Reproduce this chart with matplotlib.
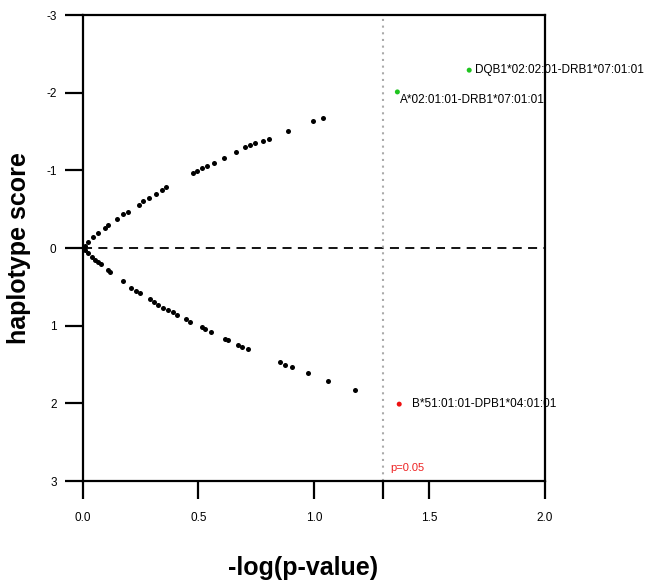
import matplotlib.pyplot as plt

plt.rcParams['font.family'] = ['Liberation Sans', 'DejaVu Sans']

# haplotypes with positive score (upper branch, negative y on the inverted axis)
up_x = [0.01, 0.023, 0.045, 0.066, 0.095, 0.110, 0.149, 0.175, 0.193, 0.242,
        0.261, 0.287, 0.315, 0.340, 0.359, 0.475, 0.492, 0.514, 0.535, 0.566,
        0.612, 0.661, 0.701, 0.723, 0.745, 0.781, 0.805, 0.889, 0.994, 1.040]
up_y = [-0.03, -0.08, -0.14, -0.19, -0.26, -0.29, -0.37, -0.44, -0.47, -0.56,
        -0.60, -0.64, -0.70, -0.75, -0.78, -0.96, -0.99, -1.03, -1.06, -1.09,
        -1.16, -1.23, -1.30, -1.32, -1.35, -1.38, -1.41, -1.51, -1.63, -1.68]

# lower branch
low_x = [0.01, 0.023, 0.037, 0.052, 0.066, 0.078, 0.110, 0.117, 0.175, 0.206,
         0.229, 0.247, 0.290, 0.309, 0.326, 0.348, 0.369, 0.391, 0.408, 0.446,
         0.463, 0.514, 0.528, 0.554, 0.615, 0.626, 0.672, 0.687, 0.713, 0.853,
         0.874, 0.903, 0.973, 1.062, 1.177]
low_y = [0.03, 0.07, 0.11, 0.15, 0.18, 0.21, 0.28, 0.31, 0.43, 0.51,
         0.55, 0.58, 0.66, 0.70, 0.73, 0.77, 0.80, 0.83, 0.86, 0.92,
         0.95, 1.02, 1.04, 1.08, 1.17, 1.18, 1.25, 1.27, 1.30, 1.47,
         1.50, 1.53, 1.61, 1.71, 1.83]

# significant haplotypes
sig_names = ['DQB1*02:02:01-DRB1*07:01:01', 'A*02:01:01-DRB1*07:01:01',
             'B*51:01:01-DPB1*04:01:01']
sig_x = [1.672, 1.361, 1.369]
sig_y = [-2.29, -2.01, 2.01]
sig_colors = ['#1fc41f', '#1fc41f', '#ee1111']

p_cut = 1.3

fig = plt.figure(figsize=(6.47, 5.82), dpi=100)
ax = fig.add_axes([0.1283, 0.1735, 0.714, 0.8007])

ax.scatter(up_x, up_y, s=13, color='black', zorder=3, linewidths=0)
ax.scatter(low_x, low_y, s=13, color='black', zorder=3, linewidths=0)
ax.scatter(sig_x, sig_y, s=13, color=sig_colors, zorder=3, linewidths=0)

ax.text(sig_x[0] + 0.025, sig_y[0], sig_names[0], fontsize=8.5, va='center', ha='left')
ax.text(sig_x[1] + 0.01, sig_y[1] + 0.1, sig_names[1], fontsize=8.5, va='center', ha='left')
ax.text(sig_x[2] + 0.055, sig_y[2], sig_names[2], fontsize=8.5, va='center', ha='left')

ax.axhline(0, color='black', lw=1.3, ls=(0, (5, 3.5)), zorder=2)
ax.axvline(p_cut, color='#aaaaaa', lw=1.5, ls=(0, (1, 2.2)), zorder=2)
ax.text(p_cut + 0.03, 2.83, 'p=0.05', color='#ee2222', fontsize=8, va='center', ha='left')

ax.set_xlim(0, 2)
ax.set_ylim(3, -3)
ax.set_xticks([0, 0.5, 1.0, p_cut, 1.5, 2.0])
ax.set_xticklabels(['0.0', '0.5', '1.0', '', '1.5', '2.0'])
ax.set_yticks([-3, -2, -1, 0, 1, 2, 3])
ax.set_yticklabels(['-3', '-2', '-1', '0', '1', '2', '3'])
ax.tick_params(direction='out', length=13, width=1.6, labelsize=8.5, pad=6)
ax.tick_params(axis='x', pad=9)
for sp in ax.spines.values():
    sp.set_linewidth(1.6)

ax.set_xlabel('-log(p-value)', fontsize=18, fontweight='bold')
ax.set_ylabel('haplotype score', fontsize=18, fontweight='bold')
ax.xaxis.set_label_coords(0.476, -0.16)
ax.yaxis.set_label_coords(-0.113, 0.5)

fig.savefig('out.png', dpi=100)
